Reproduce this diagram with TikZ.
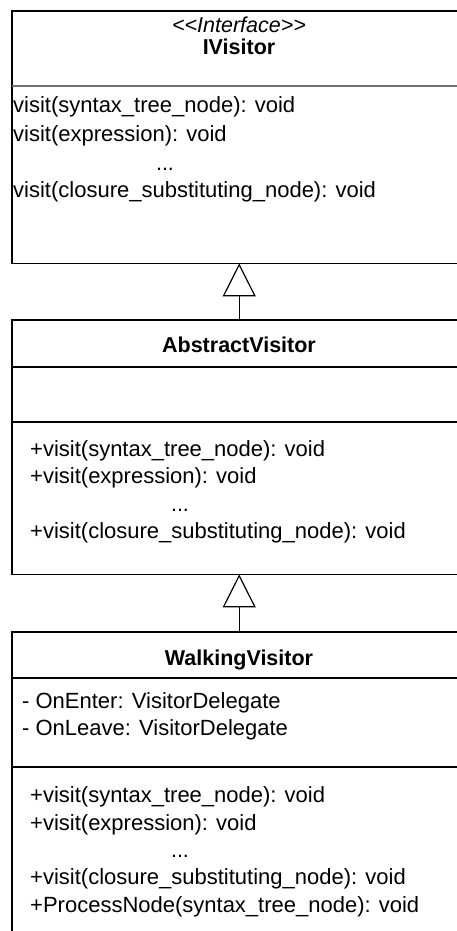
\documentclass[tikz,border=0pt]{standalone}
\usepackage{fontspec}
\setmainfont{Liberation Sans}
\usetikzlibrary{arrows.meta}
\begin{document}
\begin{tikzpicture}[x=1pt,y=-1pt,
  umlbox/.style={anchor=north west, inner sep=0pt, minimum width=454pt},
  boxline/.style={line width=1.3pt, draw=black},
  divider/.style={line width=1.3pt, draw=black},
  lightdivider/.style={line width=1.2pt, draw=black!55},
  txt/.style={anchor=base west, inner sep=0pt, font=\fontsize{22}{26}\selectfont},
  ctxt/.style={anchor=base, inner sep=0pt, font=\fontsize{21.5}{26}\selectfont},
  inherit/.style={line width=1.2pt, -{Triangle[open, length=33pt, width=33pt, line width=1.2pt]}}]
\useasboundingbox (0,0) rectangle (456,931);
% boxes (named, the right sides lie outside the picture)
\node[umlbox, minimum height=252pt] (iv) at (12,11) {};
\node[umlbox, minimum height=254pt] (av) at (12,320) {};
\node[umlbox, minimum height=330pt] (wv) at (12,632) {};
\draw[boxline] (iv.north east) -- (iv.north west) -- (iv.south west) -- (iv.south east);
\draw[boxline] (av.north east) -- (av.north west) -- (av.south west) -- (av.south east);
\draw[boxline] (wv.north east) -- (wv.north west) -- (wv.south west);
% dividers
\draw[lightdivider] (12,86) -- (466,86);
\draw[divider] (12,367) -- (466,367);
\draw[divider] (12,422) -- (466,422);
\draw[divider] (12,678) -- (466,678);
\draw[divider] (12,767) -- (466,767);
% IVisitor
\node[ctxt, font=\fontsize{21.5}{26}\selectfont\itshape] (ivst) at (239,33) {{<}{<}Interface{>}{>}};
\node[ctxt, font=\fontsize{21.5}{26}\selectfont\bfseries] (ivname) at (239,55) {IVisitor};
\node[txt] (ivm1) at (13,113) {visit(syntax\_tree\_node): void};
\node[txt] (ivm2) at (13,141) {visit(expression): void};
\node[ctxt] (ivm3) at (165,170) {...};
\node[txt] (ivm4) at (13,197) {visit(closure\_substituting\_node): void};
% AbstractVisitor
\node[ctxt, font=\fontsize{21.5}{26}\selectfont\bfseries] (avname) at (239,352) {AbstractVisitor};
\node[txt] (avm1) at (30,456) {+visit(syntax\_tree\_node): void};
\node[txt] (avm2) at (30,483) {+visit(expression): void};
\node[ctxt] (avm3) at (180,511) {...};
\node[txt] (avm4) at (30,538) {+visit(closure\_substituting\_node): void};
% WalkingVisitor
\node[ctxt, font=\fontsize{21.5}{26}\selectfont\bfseries] (wvname) at (239,665) {WalkingVisitor};
\node[txt] (wva1) at (22,708) {- OnEnter: VisitorDelegate};
\node[txt] (wva2) at (22,735) {- OnLeave: VisitorDelegate};
\node[txt] (wvm1) at (30,802) {+visit(syntax\_tree\_node): void};
\node[txt] (wvm2) at (30,830) {+visit(expression): void};
\node[ctxt] (wvm3) at (180,857) {...};
\node[txt] (wvm4) at (30,884) {+visit(closure\_substituting\_node): void};
\node[txt] (wvm5) at (30,912) {+ProcessNode(syntax\_tree\_node): void};
% inheritance
\draw[inherit] (av.north) -- (iv.south);
\draw[inherit] (wv.north) -- (av.south);
\end{tikzpicture}
\end{document}
